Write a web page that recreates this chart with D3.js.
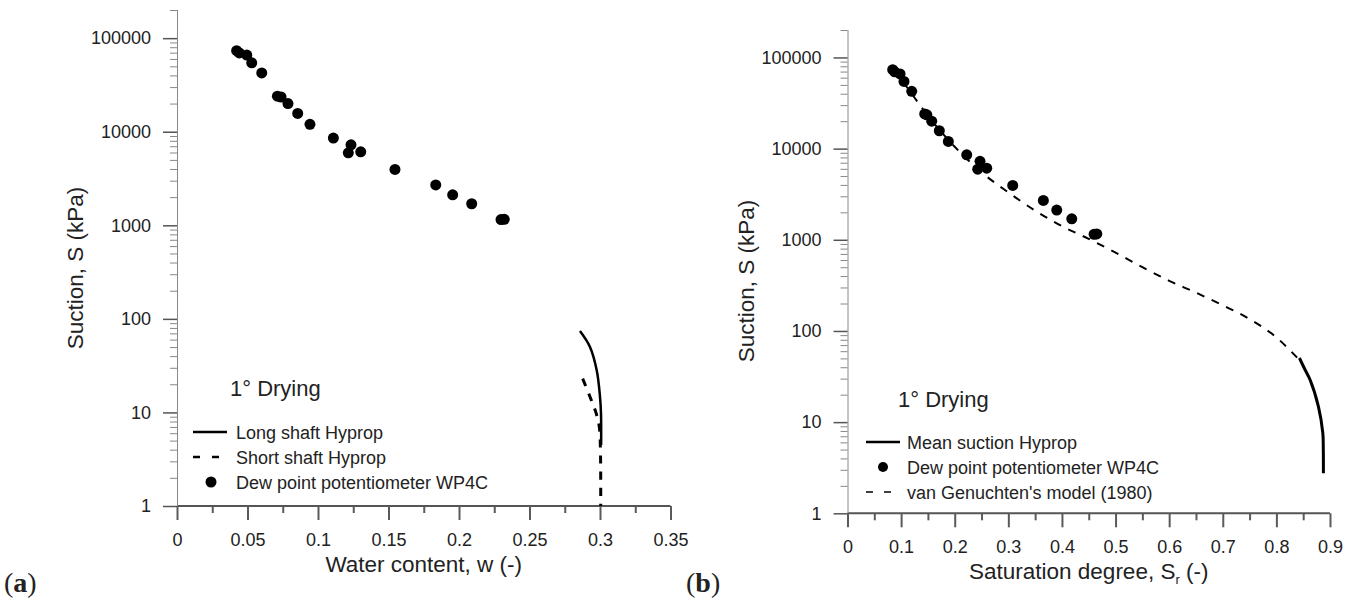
<!DOCTYPE html>
<html><head><meta charset="utf-8">
<script src="https://cdn.jsdelivr.net/npm/d3@7"></script>
<style>
body{margin:0;background:#fff}
svg{display:block}
text{font-family:"Liberation Sans",Arial,sans-serif;fill:#222}
</style>
</head><body>
<svg id="c" width="1357" height="606"></svg>
<script>
// ---- data ----
const suctionKPa = [73500, 69500, 66000, 54500, 42500, 24000, 23500, 20000, 15700, 12000, 8550, 7250, 5950, 6100, 3950, 2700, 2120, 1700, 1150, 1160];
const waterContent = [0.0423, 0.0442, 0.0495, 0.0530, 0.0601, 0.0712, 0.0738, 0.0787, 0.0856, 0.0943, 0.1109, 0.1234, 0.1215, 0.1303, 0.1546, 0.1835, 0.1955, 0.2090, 0.2298, 0.2321];
const saturationDegree = [0.0843, 0.0880, 0.0980, 0.1054, 0.1198, 0.1440, 0.1480, 0.1571, 0.1713, 0.1881, 0.2224, 0.2472, 0.2429, 0.2597, 0.3082, 0.3653, 0.3903, 0.4183, 0.4600, 0.4650];

const longShaftW = [0.2858, 0.2929, 0.2977, 0.3000, 0.3007, 0.3008];
const longShaftS = [74, 50, 28, 14.7, 9.8, 4.5];
const shortShaftW = [0.2877, 0.2929, 0.2972, 0.2995, 0.3003, 0.3005];
const shortShaftS = [23, 14.7, 9.9, 7, 4, 1.0];

const hypropSr = [0.843, 0.853, 0.863, 0.8784, 0.8866, 0.8875, 0.8877];
const hypropS = [50.5, 38, 29, 14.8, 7.6, 5, 2.75];

const vgSr = [0.085, 0.10, 0.12, 0.15, 0.20, 0.25, 0.30, 0.35, 0.40, 0.45, 0.50, 0.55, 0.60, 0.65, 0.70, 0.75, 0.80, 0.84];
const vgS = [74100, 57500, 39800, 22900, 10470, 5500, 3310, 2090, 1410, 1023, 724, 501, 355, 263, 191, 135, 85, 50];

const xTicksA = [0, 0.05, 0.1, 0.15, 0.2, 0.25, 0.3, 0.35];
const xMinorA = [0.025, 0.075, 0.125, 0.175, 0.225, 0.275, 0.325];
const xTicksB = [0, 0.1, 0.2, 0.3, 0.4, 0.5, 0.6, 0.7, 0.8, 0.9];
const xMinorB = [0.05, 0.15, 0.25, 0.35, 0.45, 0.55, 0.65, 0.75, 0.85];
const yTicks = [1, 10, 100, 1000, 10000, 100000];
const yMinor = [];
for (let k = 0; k <= 5; k++) for (let m = 2; m <= 9; m++) { const v = m * Math.pow(10, k); if (v <= 200000) yMinor.push(v); }

const svg = d3.select("#c");
const fmt = d => String(+d.toFixed(3));

function panel(o) {
  const x = d3.scaleLinear().domain(o.xDomain).range(o.xRange);
  const y = d3.scaleLog().domain([1, 200000]).range(o.yRange);
  const g = svg.append("g");

  // x axis minor
  const xm = g.append("g").attr("transform", `translate(0,${o.yRange[0]})`)
    .call(d3.axisBottom(x).tickValues(o.xMinor).tickSize(7).tickFormat(""));
  xm.select(".domain").remove();
  xm.selectAll(".tick line").attr("stroke", "#5a5a5a").attr("stroke-width", 2);

  // x axis major
  const xM = g.append("g").attr("transform", `translate(0,${o.yRange[0]})`)
    .call(d3.axisBottom(x).tickValues(o.xTicks).tickSize(14).tickPadding(13).tickFormat(fmt));
  xM.select(".domain").attr("stroke", "#555").attr("stroke-width", 2).attr("d", `M${o.xRange[0]},0H${o.xRange[1]}`);
  xM.selectAll(".tick line").attr("stroke", "#5a5a5a").attr("stroke-width", 2);
  xM.selectAll("text").style("font-size", "18px").attr("fill", "#222");

  // y axis minor
  const ym = g.append("g").attr("transform", `translate(${o.xRange[0]},0)`)
    .call(d3.axisLeft(y).tickValues(yMinor).tickSize(7).tickFormat(""));
  ym.select(".domain").remove();
  ym.selectAll(".tick line").attr("stroke", "#888").attr("stroke-width", 1);

  // y axis major
  const yM = g.append("g").attr("transform", `translate(${o.xRange[0]},0)`)
    .call(d3.axisLeft(y).tickValues(yTicks).tickSize(14).tickPadding(12).tickFormat(d3.format("d")));
  yM.select(".domain").attr("stroke", "#888").attr("stroke-width", 1).attr("d", `M0.5,${o.yRange[1]}V${o.yRange[0]}`);
  yM.selectAll(".tick line").attr("stroke", "#555").attr("stroke-width", 1.5);
  yM.selectAll("text").style("font-size", "18px").attr("fill", "#222");

  // axis titles
  const xt = g.append("text").attr("x", (o.xRange[0] + o.xRange[1]) / 2).attr("y", o.yRange[0] + 66)
    .attr("text-anchor", "middle").style("font-size", "22.5px");
  o.xTitle(xt);
  g.append("text").attr("transform", `translate(${o.xRange[0] - 94},${o.yTitleY}) rotate(-90)`)
    .attr("text-anchor", "middle").style("font-size", "22.5px").text("Suction, S (kPa)");

  return { g, x, y };
}

// ---------- Panel (a) ----------
const A = panel({
  xDomain: [0, 0.35], xRange: [177, 670.5], yRange: [506, 10],
  xTicks: xTicksA, xMinor: xMinorA, yTitleY: 268,
  xTitle: t => t.text("Water content, w (-)")
});

const lineA = d3.line().x(d => A.x(d[0])).y(d => A.y(d[1])).curve(d3.curveCatmullRom);
A.g.append("path").datum(longShaftW.map((w, i) => [w, longShaftS[i]]))
  .attr("d", lineA).attr("fill", "none").attr("stroke", "#000").attr("stroke-width", 2.5);
A.g.append("path").datum(shortShaftW.map((w, i) => [w, shortShaftS[i]]))
  .attr("d", lineA).attr("fill", "none").attr("stroke", "#000").attr("stroke-width", 3)
  .attr("stroke-dasharray", "8,8");
A.g.selectAll("circle.pt").data(waterContent.map((w, i) => [w, suctionKPa[i]])).enter()
  .append("circle").attr("class", "pt").attr("cx", d => A.x(d[0])).attr("cy", d => A.y(d[1])).attr("r", 5.5).attr("fill", "#000");

// legend (a)
A.g.append("text").attr("x", 230).attr("y", 396).style("font-size", "22px").text("1° Drying");
A.g.append("line").attr("x1", 193).attr("x2", 227).attr("y1", 432).attr("y2", 432).attr("stroke", "#000").attr("stroke-width", 2.5);
A.g.append("line").attr("x1", 193).attr("x2", 219).attr("y1", 457).attr("y2", 457).attr("stroke", "#000").attr("stroke-width", 2.5).attr("stroke-dasharray", "7,12");
A.g.append("circle").attr("cx", 211).attr("cy", 482).attr("r", 5.5).attr("fill", "#000");
[["Long shaft Hyprop", 439], ["Short shaft Hyprop", 464], ["Dew point potentiometer WP4C", 489]].forEach(([t, yy]) =>
  A.g.append("text").attr("x", 236).attr("y", yy).style("font-size", "18px").text(t));

// ---------- Panel (b) ----------
const B = panel({
  xDomain: [0, 0.9], xRange: [847.5, 1330], yRange: [513.3, 30],
  xTicks: xTicksB, xMinor: xMinorB, yTitleY: 281,
  xTitle: t => { t.text("Saturation degree, S"); t.append("tspan").attr("dy", 5).style("font-size", "13px").text("r"); t.append("tspan").attr("dy", -5).text(" (-)"); }
});

const lineB = d3.line().x(d => B.x(d[0])).y(d => B.y(d[1]));
B.g.append("path").datum(vgSr.map((s, i) => [s, vgS[i]]))
  .attr("d", lineB.curve(d3.curveMonotoneX)).attr("fill", "none").attr("stroke", "#000").attr("stroke-width", 2)
  .attr("stroke-dasharray", "8,8");
B.g.append("path").datum(hypropSr.map((s, i) => [s, hypropS[i]]))
  .attr("d", lineB.curve(d3.curveCatmullRom)).attr("fill", "none").attr("stroke", "#000").attr("stroke-width", 3);
B.g.selectAll("circle.pt").data(saturationDegree.map((s, i) => [s, suctionKPa[i]])).enter()
  .append("circle").attr("class", "pt").attr("cx", d => B.x(d[0])).attr("cy", d => B.y(d[1])).attr("r", 5.5).attr("fill", "#000");

// legend (b)
B.g.append("text").attr("x", 898).attr("y", 407).style("font-size", "22px").text("1° Drying");
B.g.append("line").attr("x1", 866).attr("x2", 900).attr("y1", 442).attr("y2", 442).attr("stroke", "#000").attr("stroke-width", 2.5);
B.g.append("circle").attr("cx", 883).attr("cy", 467).attr("r", 5).attr("fill", "#000");
B.g.append("line").attr("x1", 866).attr("x2", 891).attr("y1", 492).attr("y2", 492).attr("stroke", "#000").attr("stroke-width", 1.5).attr("stroke-dasharray", "7,11");
[["Mean suction Hyprop", 449], ["Dew point potentiometer WP4C", 474], ["van Genuchten's model (1980)", 499]].forEach(([t, yy]) =>
  B.g.append("text").attr("x", 907).attr("y", yy).style("font-size", "18px").text(t));

// panel labels
function plabel(x, letter) {
  const t = svg.append("text").attr("x", x).attr("y", 592).style("font-family", "'Liberation Serif','Times New Roman',serif").style("font-size", "28px").attr("fill", "#000");
  t.append("tspan").text("(");
  t.append("tspan").style("font-weight", "bold").text(letter);
  t.append("tspan").text(")");
}
plabel(4, "a");
plabel(686, "b");
</script>
</body></html>
